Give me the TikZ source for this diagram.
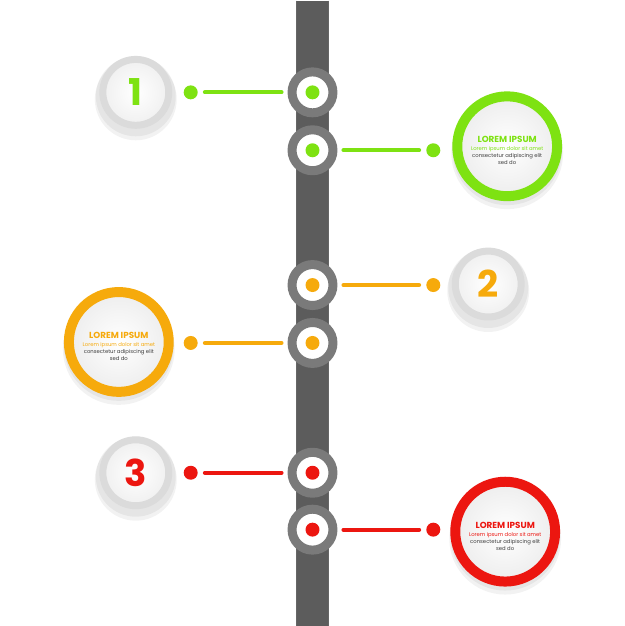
\documentclass[tikz,border=0pt]{standalone}
\usepackage{fontspec}
\setmainfont{Poppins}
\usetikzlibrary{positioning}

\definecolor{lime}{RGB}{126,226,18}
\definecolor{amber}{RGB}{246,170,12}
\definecolor{scarlet}{RGB}{236,22,16}
\definecolor{bargray}{RGB}{92,92,92}
\definecolor{ringgray}{RGB}{122,122,122}
\definecolor{bodytext}{RGB}{60,60,60}

\begin{document}
\begin{tikzpicture} [
    x=1pt, y=-1pt,
    ring/.style = {circle, draw=ringgray, line width=9pt, fill=white,
        minimum size=41pt, inner sep=0pt},
    dot/.style = {circle, fill=#1, minimum size=14pt, inner sep=0pt},
    link/.style = {draw=#1, line width=4pt, line cap=round,
        shorten <=7pt, shorten >=6pt},
    numdisc/.style = {circle, draw=gray!28, line width=7pt,
        inner color=white, outer color=gray!12,
        minimum size=66pt, inner sep=0pt, text=#1,
        font=\bfseries\fontsize{37}{37}\selectfont},
    infodisc/.style = {circle, draw=#1, line width=10pt,
        inner color=white, outer color=gray!14,
        minimum size=100pt, inner sep=0pt, align=center,
        font=\fontsize{5.3}{7}\selectfont, text=bodytext}]
    % \draw [help lines] (0,0) grid [step=50] (626,626);
    \fill [white] (0,0) rectangle (626,626);

    % the vertical bar
    \fill [bargray] (296,0) rectangle (330,626);
    \draw [black!60, line width=1pt] (296.5,0) -- (296.5,626)
        (329.5,0) -- (329.5,626);

    % soft shadows
    \foreach \cx/\cy/\r in {136/92/40, 489/284/40, 136/473/40,
                            508/146/55, 119/342/55, 506/532/55} {
        \fill [black, opacity=0.05] (\cx,\cy+7) circle (\r+1);
        \fill [black, opacity=0.05] (\cx,\cy+4) circle (\r);
    }

    % rings on the bar
    \node (r1) [ring] at (313,92) {};
    \node (r2) [ring] at (313,150) {};
    \node (r3) [ring] at (313,285) {};
    \node (r4) [ring] at (313,343) {};
    \node (r5) [ring] at (313,473) {};
    \node (r6) [ring] at (313,530) {};
    \node [dot=lime] at (r1) {};
    \node [dot=lime] at (r2) {};
    \node [dot=amber] at (r3) {};
    \node [dot=amber] at (r4) {};
    \node [dot=scarlet] at (r5) {};
    \node [dot=scarlet] at (r6) {};

    % end dots
    \node (d1) [dot=lime] at (191,92) {};
    \node (d2) [dot=lime] at (434,150) {};
    \node (d3) [dot=amber] at (434,285) {};
    \node (d4) [dot=amber] at (191,343) {};
    \node (d5) [dot=scarlet] at (191,473) {};
    \node (d6) [dot=scarlet] at (434,530) {};

    \path
        (d1) edge [link=lime] (r1)
        (r2) edge [link=lime, shorten <=6pt, shorten >=7pt] (d2)
        (r3) edge [link=amber, shorten <=6pt, shorten >=7pt] (d3)
        (d4) edge [link=amber] (r4)
        (d5) edge [link=scarlet] (r5)
        (r6) edge [link=scarlet, shorten <=6pt, shorten >=7pt] (d6);

    % numbered discs
    \node (n1) [numdisc=lime] at (136,92) {1};
    \node (n2) [numdisc=amber] at (489,284) {2};
    \node (n3) [numdisc=scarlet] at (136,473) {3};

    % text discs
    \node (t1) [infodisc=lime] at (508,146)
        {\rule{0pt}{15pt}{\color{lime}\fontsize{8.8}{9}\selectfont\bfseries LOREM IPSUM}\\[1pt]
         {\color{lime}Lorem ipsum dolor sit amet}\\
         consectetur adipiscing elit\\ sed do};
    \node (t2) [infodisc=amber] at (119,342)
        {\rule{0pt}{15pt}{\color{amber}\fontsize{8.8}{9}\selectfont\bfseries LOREM IPSUM}\\[1pt]
         {\color{amber}Lorem ipsum dolor sit amet}\\
         consectetur adipiscing elit\\ sed do};
    \node (t3) [infodisc=scarlet] at (506,532)
        {\rule{0pt}{15pt}{\color{scarlet}\fontsize{8.8}{9}\selectfont\bfseries LOREM IPSUM}\\[1pt]
         {\color{scarlet}Lorem ipsum dolor sit amet}\\
         consectetur adipiscing elit\\ sed do};
\end{tikzpicture}
\end{document}
